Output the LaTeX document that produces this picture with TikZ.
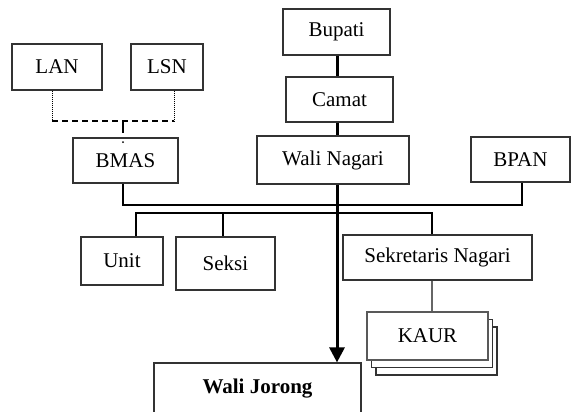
\documentclass[tikz,border=0pt]{standalone}
\usepackage{fontspec}
\setmainfont{Liberation Serif}
\usetikzlibrary{arrows.meta}
\begin{document}
\begin{tikzpicture}[x=0.5pt,y=-0.5pt,
  orgbox/.style={draw=black!80,line width=0.6pt,fill=white,inner sep=0pt,
    font=\fontsize{10.5}{12}\selectfont},
  spineline/.style={line width=1.5pt},
  busline/.style={line width=1.15pt},
  advline/.style={line width=1pt,dash pattern=on 3pt off 2pt},
  dotline/.style={line width=0.5pt,dash pattern=on 0.5pt off 0.5pt},
  thinline/.style={line width=0.55pt,draw=black!60}]
\useasboundingbox (0,0) rectangle (573,412);

% top chain
\node[orgbox,minimum width=53.5pt,minimum height=23pt] (bupati) at (336.5,32) {Bupati};
\node[orgbox,minimum width=53.5pt,minimum height=22.5pt] (camat) at (339.5,99.5) {Camat};
\node[orgbox,minimum width=76pt,minimum height=24pt] (wali) at (333,160) {Wali Nagari};

% advisory bodies
\node[orgbox,minimum width=45pt,minimum height=23pt] (lan) at (57,67) {LAN};
\node[orgbox,minimum width=36pt,minimum height=23pt] (lsn) at (167,67) {LSN};
\node[orgbox,minimum width=52.5pt,minimum height=22.5pt] (bmas) at (125.5,160.5) {BMAS};
\node[orgbox,minimum width=49.5pt,minimum height=22.5pt] (bpan) at (520.5,159.5) {BPAN};

% second level
\node[orgbox,minimum width=41pt,minimum height=24pt] (unit) at (122,261) {Unit};
\node[orgbox,minimum width=49.5pt,minimum height=26.5pt] (seksi) at (225.5,263.5) {Seksi};
\node[orgbox,minimum width=94.5pt,minimum height=22.5pt] (sekr) at (437.5,257.5) {Sekretaris Nagari};

% stacked KAUR boxes
\node[orgbox,minimum width=60.5pt,minimum height=24pt] (kaur3) at (436.5,351) {};
\node[orgbox,minimum width=60.5pt,minimum height=24pt] (kaur2) at (432,343.5) {};
\node[orgbox,draw=black!65,line width=0.8pt,minimum width=60.5pt,minimum height=24pt] (kaur) at (427.5,336) {KAUR};

% bottom box, running past the lower edge
\node[orgbox,font=\fontsize{10.5}{12}\selectfont\bfseries,minimum width=103.5pt,minimum height=26pt] (jorong) at (257.5,389) {Wali Jorong};

% reference points for the lines
\coordinate (sp) at (337,0);
\coordinate (bus1l) at (123,205);
\coordinate (bus1r) at (522,205);
\coordinate (bus2l) at (136,213);
\coordinate (bus2r) at (432,213);
\coordinate (seksix) at (223,213);
\coordinate (adl) at (52,121);
\coordinate (adr) at (174,121);
\coordinate (adm) at (123,121);
\coordinate (admt) at (123,133);

% main command line
\draw[spineline] (bupati.south -| sp) -- (camat.north -| sp);
\draw[spineline] (camat.south -| sp) -- (wali.north -| sp);
\draw[spineline,-{Triangle[width=7.5pt,length=7.5pt]}] (wali.south -| sp) -- (jorong.north -| sp);

% BMAS to BPAN bus
\draw[busline] (bmas.south -| bus1l) -- (bus1l) -- (bus1r) -- (bpan.south -| bus1r);

% bus to Unit, Seksi and Sekretaris Nagari
\draw[busline] (unit.north -| bus2l) -- (bus2l) -- (bus2r) -- (sekr.north -| bus2r);
\draw[busline] (seksix) -- (seksix |- seksi.north);

% Sekretaris Nagari to KAUR
\draw[thinline] (sekr.south -| bus2r) -- (kaur.north -| bus2r);

% advisory links
\draw[dotline] (lan.south -| adl) -- (adl);
\draw[dotline] (lsn.south -| adr) -- (adr);
\draw[advline] (adl) -- (adr);
\draw[line width=0.8pt] (adm) -- (admt);
\fill (123,142) circle (0.5pt);
\end{tikzpicture}
\end{document}
